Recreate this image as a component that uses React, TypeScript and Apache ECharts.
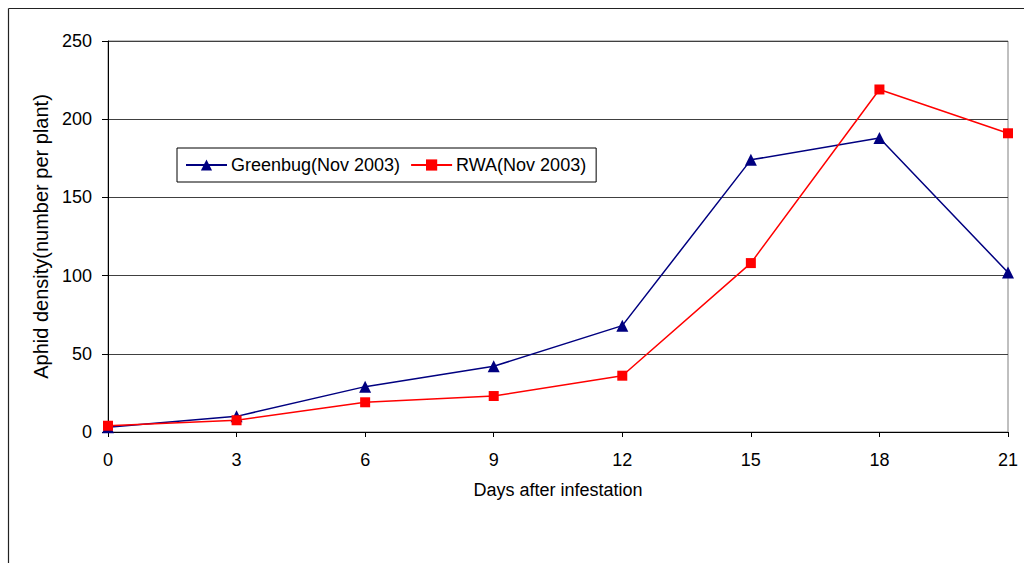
import React, { useEffect, useRef } from "react";
import * as echarts from "echarts";

const days = [0, 3, 6, 9, 12, 15, 18, 21];
const greenbug = [3, 10, 29, 42, 68, 174, 188, 102];
const rwa = [4, 7.5, 19, 23, 36, 108, 219, 191];
const seriesNames = ["Greenbug(Nov 2003)", "RWA(Nov 2003)"];

export default function App() {
  const ref = useRef<HTMLDivElement>(null);
  useEffect(() => {
    const chart = echarts.init(ref.current!, null, { renderer: "svg" });
    const font = "Liberation Sans, Arial, sans-serif";
    chart.setOption({
      animation: false,
      backgroundColor: "#fff",
      textStyle: { fontFamily: font },
      grid: { left: 108, top: 41, right: 16, bottom: 131, show: true, borderColor: "#808080", borderWidth: 1 },
      legend: {
        left: 177,
        top: 148,
        orient: "horizontal",
        padding: [8, 10, 8, 8],
        itemWidth: 41,
        itemHeight: 14,
        itemGap: 10,
        borderColor: "#000",
        borderWidth: 1,
        textStyle: { fontSize: 18, lineHeight: 18, color: "#000", fontFamily: font, padding: [0, 0, 0, -1] },
        data: seriesNames,
      },
      xAxis: {
        type: "value",
        min: 0,
        max: 21,
        interval: 3,
        name: "Days after infestation",
        nameLocation: "middle",
        nameGap: 49,
        nameTextStyle: { fontSize: 18, color: "#000", fontFamily: font },
        axisLine: { onZero: false, lineStyle: { color: "#000", width: 1 } },
        axisTick: { show: true, length: 5, lineStyle: { color: "#000" } },
        axisLabel: { fontSize: 18, color: "#000", margin: 19, fontFamily: font },
        splitLine: { show: false },
      },
      yAxis: {
        type: "value",
        min: 0,
        max: 250,
        interval: 50,
        name: "Aphid density(number per plant)",
        nameLocation: "middle",
        nameGap: 50,
        nameTextStyle: { fontSize: 20, color: "#000", fontFamily: font },
        axisLine: { show: true, lineStyle: { color: "#000", width: 1 } },
        axisTick: { show: true, length: 6, lineStyle: { color: "#000" } },
        axisLabel: { fontSize: 18, color: "#000", margin: 16, fontFamily: font },
        splitLine: { show: true, lineStyle: { color: "#404040", width: 1 } },
      },
      series: [
        {
          name: seriesNames[0],
          type: "line",
          data: days.map((d, i) => [d, greenbug[i]]),
          symbol: "triangle",
          symbolSize: 12,
          lineStyle: { color: "#000080", width: 1.5 },
          itemStyle: { color: "#000080" },
          z: 3,
        },
        {
          name: seriesNames[1],
          type: "line",
          data: days.map((d, i) => [d, rwa[i]]),
          symbol: "rect",
          symbolSize: 10,
          lineStyle: { color: "#ff0000", width: 1.5 },
          itemStyle: { color: "#ff0000" },
          z: 4,
        },
      ],
      graphic: [
        { type: "line", shape: { x1: 8.5, y1: 8.5, x2: 1024, y2: 8.5 }, style: { stroke: "#222", lineWidth: 1.2 } },
        { type: "line", shape: { x1: 8.5, y1: 8.5, x2: 8.5, y2: 563 }, style: { stroke: "#222", lineWidth: 1.2 } },
      ],
    });
    return () => chart.dispose();
  }, []);
  return <div ref={ref} style={{ width: 1024, height: 563, position: "absolute", left: 0, top: 0 }} />;
}
